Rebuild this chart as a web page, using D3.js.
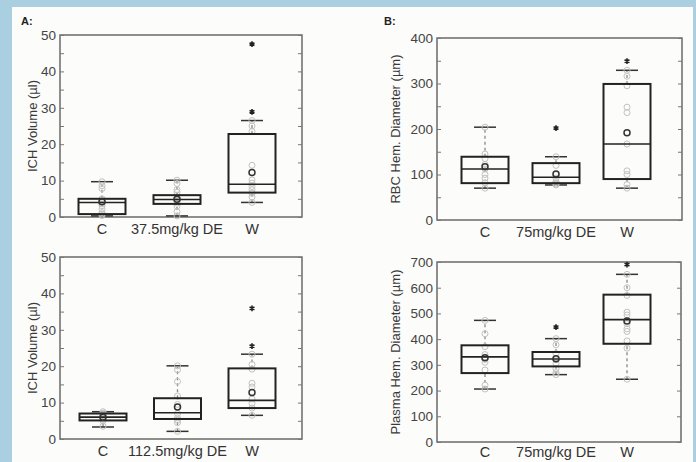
<!DOCTYPE html>
<html>
<head>
<meta charset="utf-8">
<script src="https://cdnjs.cloudflare.com/ajax/libs/d3/7.8.5/d3.min.js"></script>
<style>
  body { margin: 0; background: #a9cfe1; }
  svg { display: block; }
  text { font-family: "Liberation Sans", Arial, sans-serif; }
</style>
</head>
<body>
<svg id="chart" width="696" height="462"></svg>
<script>
// box stats per group: [lower whisker, q1, median, q3, upper whisker]

// A, top: 37.5mg/kg DE
var catsA1 = ['C', '37.5mg/kg DE', 'W'];
var boxA1 = [[0.3, 0.8, 4.0, 5.0, 9.7], [0.3, 3.6, 4.8, 6.0, 10.1], [4.0, 6.7, 9.0, 22.8, 26.5]];
var meanA1 = [4.2, 4.9, 12.2];
var outA1 = [[], [], [47.5, 28.9]];
var ptsA1 = [
  [0.4, 0.8, 1.2, 2.2, 3.1, 3.6, 4.1, 4.6, 5.0, 7.8, 8.6, 9.7],
  [0.3, 1.5, 3.0, 3.8, 4.3, 4.8, 5.3, 6.0, 6.8, 7.5, 9.2, 10.1],
  [4.0, 5.5, 6.5, 7.5, 8.4, 9.3, 10.2, 14.2, 23.5, 25.0, 26.5]
];

// A, bottom: 112.5mg/kg DE
var catsA2 = ['C', '112.5mg/kg DE', 'W'];
var boxA2 = [[3.3, 5.1, 6.0, 7.0, 7.5], [2.1, 5.5, 7.2, 11.2, 20.1], [6.5, 8.5, 10.6, 19.4, 23.3]];
var meanA2 = [6.0, 8.8, 12.8];
var outA2 = [[], [], [35.9, 25.5]];
var ptsA2 = [
  [3.5, 5.0, 5.4, 5.8, 6.1, 6.4, 6.8, 7.1, 7.5],
  [2.1, 4.5, 5.2, 5.8, 7.0, 9.5, 11.8, 15.8, 19.0, 20.1],
  [6.5, 8.5, 9.8, 11.0, 14.3, 15.3, 19.2, 20.5, 23.3]
];

// B, top: RBC hemorrhage diameter
var catsB1 = ['C', '75mg/kg DE', 'W'];
var boxB1 = [[70, 81, 112, 139, 204], [77, 81, 94, 125, 139], [70, 90, 167, 299, 329]];
var meanB1 = [117, 101, 192];
var outB1 = [[], [202], [349]];
var ptsB1 = [
  [70, 82, 92, 100, 112, 122, 135, 145, 204],
  [77, 79, 82, 85, 92, 100, 120, 139],
  [70, 78, 100, 108, 167, 236, 248, 295, 316, 329]
];

// B, bottom: plasma hemorrhage diameter
var catsB2 = ['C', '75mg/kg DE', 'W'];
var boxB2 = [[206, 268, 331, 376, 473], [262, 294, 323, 350, 402], [244, 382, 476, 573, 652]];
var meanB2 = [328, 324, 471];
var outB2 = [[], [447], [690]];
var ptsB2 = [
  [206, 221, 280, 310, 321, 340, 371, 421, 473],
  [262, 270, 285, 306, 320, 344, 378, 402],
  [244, 365, 393, 430, 440, 460, 494, 505, 570, 600, 652]
];

var svg = d3.select('#chart');

// white sheet on the blue frame
svg.append('rect')
  .attr('x', 12).attr('y', 7)
  .attr('width', 681).attr('height', 462)
  .attr('fill', '#fcfcfa');

svg.append('text').attr('x', 21).attr('y', 25)
  .attr('font-size', 11).attr('font-weight', 'bold').attr('fill', '#222')
  .text('A:');
svg.append('text').attr('x', 384).attr('y', 25)
  .attr('font-size', 11).attr('font-weight', 'bold').attr('fill', '#222')
  .text('B:');

function drawPanel(p){
  var g = svg.append('g');
  var x = d3.scalePoint().domain(p.cats).range([p.x0 + p.c0, p.x0 + p.c1]);
  var y = d3.scaleLinear().domain([0, p.ymax]).range([p.y1, p.y0]);
  var bw = 47;

  // frame
  g.append('rect')
    .attr('x', p.x0).attr('y', p.y0)
    .attr('width', p.x1 - p.x0).attr('height', p.y1 - p.y0)
    .attr('fill', 'none').attr('stroke', '#6a6a6a').attr('stroke-width', 1.5);

  // inward ticks, left with labels, right without
  var left = g.append('g').attr('transform', 'translate(' + p.x0 + ',0)')
    .call(d3.axisLeft(y).tickValues(d3.range(0, p.ymax + 1, p.minor))
      .tickSize(-4).tickSizeOuter(0).tickPadding(4)
      .tickFormat(function(d){ return d % p.major === 0 ? d : ''; }));
  var right = g.append('g').attr('transform', 'translate(' + p.x1 + ',0)')
    .call(d3.axisRight(y).tickValues(d3.range(0, p.ymax + 1, p.minor))
      .tickSize(-4).tickSizeOuter(0).tickFormat(''));
  [left, right].forEach(function(a){
    a.select('.domain').remove();
    a.selectAll('line').attr('stroke', '#777');
    a.selectAll('text').attr('font-size', 13.5).attr('fill', '#444')
      .attr('font-family', '"Liberation Sans", Arial, sans-serif');
  });

  g.append('text')
    .attr('transform', 'translate(' + p.ylx + ',' + ((p.y0 + p.y1) / 2) + ') rotate(-90)')
    .attr('text-anchor', 'middle').attr('font-size', 13).attr('fill', '#3a3a3a')
    .text(p.ylabel);

  g.selectAll('.cat').data(p.cats).enter().append('text')
    .attr('class', 'cat')
    .attr('x', function(d){ return x(d); })
    .attr('y', p.y1 + p.lab)
    .attr('text-anchor', 'middle').attr('font-size', 14.5).attr('fill', '#333')
    .text(function(d){ return d; });

  var grp = g.selectAll('.grp').data(p.box).enter().append('g')
    .attr('class', 'grp')
    .attr('transform', function(d, i){ return 'translate(' + x(p.cats[i]) + ',0)'; });

  // dashed whiskers
  grp.append('line')
    .attr('y1', function(d){ return y(d[3]); }).attr('y2', function(d){ return y(d[4]); })
    .attr('stroke', '#888').attr('stroke-width', 1.3).attr('stroke-dasharray', '3,3');
  grp.append('line')
    .attr('y1', function(d){ return y(d[0]); }).attr('y2', function(d){ return y(d[1]); })
    .attr('stroke', '#888').attr('stroke-width', 1.3).attr('stroke-dasharray', '3,3');
  // caps
  [0, 4].forEach(function(k){
    grp.append('line')
      .attr('x1', -11).attr('x2', 11)
      .attr('y1', function(d){ return y(d[k]); }).attr('y2', function(d){ return y(d[k]); })
      .attr('stroke', '#333').attr('stroke-width', 1.5);
  });

  // gray sample circles
  grp.selectAll('.pt').data(function(d, i){ return p.pts[i]; }).enter().append('circle')
    .attr('class', 'pt')
    .attr('cy', function(v){ return y(v); }).attr('r', 3)
    .attr('fill', 'none').attr('stroke', '#c2c2c2').attr('stroke-width', 1);

  grp.append('rect')
    .attr('x', -bw / 2).attr('width', bw)
    .attr('y', function(d){ return y(d[3]); })
    .attr('height', function(d){ return y(d[1]) - y(d[3]); })
    .attr('fill', 'none').attr('stroke', '#222').attr('stroke-width', 2);
  grp.append('line')
    .attr('x1', -bw / 2).attr('x2', bw / 2)
    .attr('y1', function(d){ return y(d[2]); }).attr('y2', function(d){ return y(d[2]); })
    .attr('stroke', '#222').attr('stroke-width', 1.6);

  // mean
  grp.append('circle')
    .attr('cy', function(d, i){ return y(p.mean[i]); }).attr('r', 3)
    .attr('fill', 'none').attr('stroke', '#333').attr('stroke-width', 1.5);

  // outliers
  grp.selectAll('.out').data(function(d, i){ return p.out[i]; }).enter().append('path')
    .attr('class', 'out')
    .attr('transform', function(v){ return 'translate(0,' + y(v) + ')'; })
    .attr('d', d3.symbol().type(d3.symbolAsterisk).size(22))
    .attr('fill', 'none').attr('stroke', '#222').attr('stroke-width', 1.6);
}

drawPanel({cats: catsA1, box: boxA1, mean: meanA1, out: outA1, pts: ptsA1,
  x0: 60, x1: 302, y0: 35, y1: 217, c0: 42, c1: 192, ymax: 50, major: 10, minor: 5,
  ylx: 37, lab: 17, ylabel: 'ICH Volume (\u00b5l)'});
drawPanel({cats: catsA2, box: boxA2, mean: meanA2, out: outA2, pts: ptsA2,
  x0: 60, x1: 302, y0: 257, y1: 439, c0: 43, c1: 192, ymax: 50, major: 10, minor: 5,
  ylx: 37, lab: 17, ylabel: 'ICH Volume (\u00b5l)'});
drawPanel({cats: catsB1, box: boxB1, mean: meanB1, out: outB1, pts: ptsB1,
  x0: 437, x1: 682, y0: 38, y1: 220, c0: 48, c1: 190, ymax: 400, major: 100, minor: 50,
  ylx: 400, lab: 17, ylabel: 'RBC Hem. Diameter (\u00b5m)'});
drawPanel({cats: catsB2, box: boxB2, mean: meanB2, out: outB2, pts: ptsB2,
  x0: 437, x1: 681, y0: 262, y1: 442, c0: 48, c1: 190, ymax: 700, major: 100, minor: 100,
  ylx: 400, lab: 15, ylabel: 'Plasma Hem. Diameter (\u00b5m)'});
</script>
</body>
</html>
